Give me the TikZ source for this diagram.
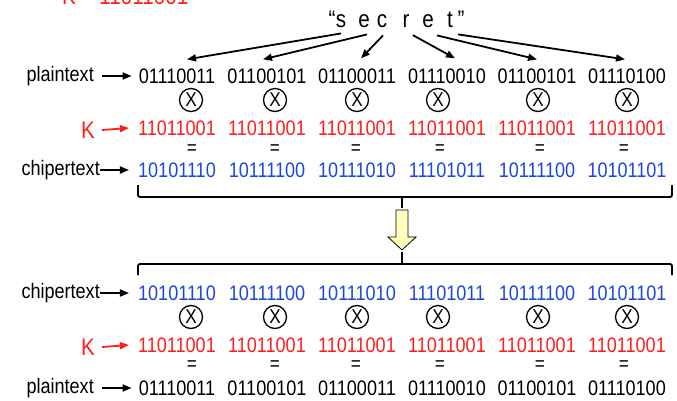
\documentclass[tikz,border=0pt]{standalone}
\usepackage{fontspec}
\setmainfont{Liberation Sans}[FakeStretch=0.86]
\usetikzlibrary{arrows.meta, calc}

\definecolor{keyred}{RGB}{255,30,30}
\definecolor{cipherblue}{RGB}{30,70,220}
\definecolor{hintyellow}{RGB}{255,255,190}

\begin{document}
\begin{tikzpicture}[
    x=1pt, y=-1pt, % work in points, y pointing down
    >={Triangle[length=9pt, width=7pt]}, % Default arrow tip
    bits/.style={inner sep=0pt, font=\fontsize{21}{21}\selectfont}, % One byte
    lbl/.style={inner sep=0pt, anchor=east, font=\fontsize{21}{21}\selectfont}, % Row names
    xorop/.style={circle, draw, line width=1.3pt, inner sep=0pt, minimum size=23pt, font=\fontsize{20}{20}\selectfont},
    eqop/.style={inner sep=0pt, font=\fontsize{20}{20}\selectfont},
    letter/.style={inner sep=0pt, anchor=base, font=\fontsize{24}{24}\selectfont},
    ptr/.style={->, line width=1.8pt}, % Arrows
    brace/.style={line width=1.8pt, rounded corners=2pt}
]

    \clip (0,0) rectangle (677,401);

    % Key, partly off the top
    \node[keyred, inner sep=0pt, anchor=base west, font=\fontsize{24}{24}\selectfont] (key) at (62,5) {K = 11011001};

    % The word, one letter per node
    \node[letter] (qo) at (332,28) {“};
    \foreach \n/\x/\t in {1/341/s, 2/364/e, 3/382/c, 4/406/r, 5/428/e, 6/450/t}
        \node[letter] (l\n) at (\x,28) {\t};
    \node[letter] (qc) at (461,28) {”};

    % Bytes: encryption on top, decryption below
    \foreach \i/\pl/\ci/\ox/\ex in {1/01110011/10101110/191/192, 2/01100101/10111100/275/275,
                                     3/01100011/10111010/357/356, 4/01110010/11101011/438/440,
                                     5/01100101/10111100/538/540, 6/01110100/10101101/627/624} {
        % plaintext xor K = ciphertext
        \node[bits] (tp\i) at (87+90*\i,76) {\pl};
        \node[xorop] (tx\i) at (\ox,100) {X};
        \node[bits, keyred] (tk\i) at (87+90*\i,128) {11011001};
        \node[eqop] (te\i) at (\ex,150) {=};
        \node[bits, cipherblue] (tc\i) at (87+90*\i,170) {\ci};
        % ciphertext xor K = plaintext
        \node[bits, cipherblue] (bc\i) at (87+90*\i,293) {\ci};
        \node[xorop] (bx\i) at (\ox,317) {X};
        \node[bits, keyred] (bk\i) at (87+90*\i,345) {11011001};
        \node[eqop] (be\i) at (\ex,366) {=};
        \node[bits] (bp\i) at (87+90*\i,388) {\pl};
    }

    % Letters to bytes
    \draw[ptr] ([yshift=-5pt]l1.south) -- ($(tp1.north)+(10,-9)$);
    \draw[ptr] ([xshift=3pt, yshift=-6pt]l2.south) -- ($(tp2.north)+(-4,-9)$);
    \draw[ptr] ([xshift=1pt, yshift=-7pt]l3.south) -- ($(tp3.north)+(4,-10)$);
    \draw[ptr] ([xshift=7pt, yshift=-7pt]l4.south) -- ($(tp4.north)+(8,-10)$);
    \draw[ptr] ([xshift=9pt, yshift=-7pt]l5.south) -- ($(tp5.north)+(0,-9)$);
    \draw[ptr] ([xshift=8pt, yshift=-6pt]l6.south) -- ($(tp6.north)+(-2,-9)$);

    % Row names, top
    \node[lbl] (tpl) at (94,76) {plaintext};
    \node[lbl, keyred, font=\fontsize{24}{24}\selectfont] (tkl) at (95,130) {K};
    \node[lbl] (tcl) at (100,170) {chipertext};
    \draw[ptr] ([xshift=8pt]tpl.east) -- ([xshift=-7pt]tp1.west);
    \draw[ptr, keyred] ([xshift=7pt]tkl.east) -- ([xshift=-9pt]tk1.west);
    \draw[ptr] (tcl.east) -- ([xshift=-9pt]tc1.west);

    % Row names, bottom
    \node[lbl] (bcl) at (100,293) {chipertext};
    \node[lbl, keyred, font=\fontsize{24}{24}\selectfont] (bkl) at (95,347) {K};
    \node[lbl] (bpl) at (94,388) {plaintext};
    \draw[ptr] (bcl.east) -- ([xshift=-9pt]bc1.west);
    \draw[ptr, keyred] ([xshift=7pt]bkl.east) -- ([xshift=-9pt]bk1.west);
    \draw[ptr] ([xshift=8pt]bpl.east) -- ([xshift=-7pt]bp1.west);

    % Braces and the hand-over arrow
    \draw[brace] (138,185) |- (672,197) -- (672,185);
    \draw[line width=1.8pt] (402,197) -- (402,208);
    \draw[fill=hintyellow, line width=0.8pt] (396,210) -- (408,210) -- (408,237) -- (416,237)
        -- (402,250) -- (388,237) -- (396,237) -- cycle;
    \draw[line width=1.8pt] (402,252) -- (402,264);
    \draw[brace] (138,275) |- (672,264) -- (672,275);

\end{tikzpicture}
\end{document}
